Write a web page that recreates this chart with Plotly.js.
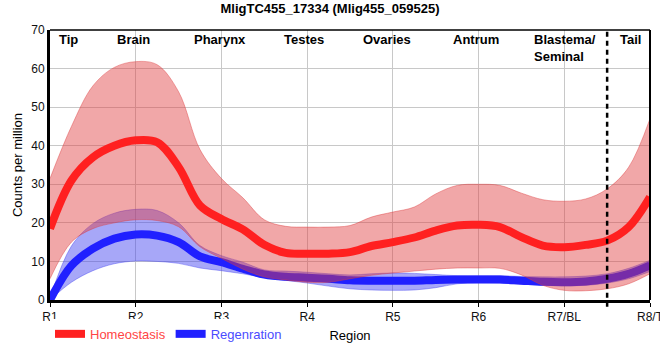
<!DOCTYPE html>
<html>
<head>
<meta charset="utf-8">
<script src="https://cdn.plot.ly/plotly-3.0.1.min.js"></script>
<style>html,body{margin:0;padding:0;background:#fff;}#chart{width:660px;height:360px;}</style>
</head>
<body>
<div id="chart"></div>
<script>
// Region positions (R1 = 1 ... R8 = 8), read at quarter steps
const positions = [1, 1.25, 1.5, 1.75, 2, 2.25, 2.5, 2.75, 3, 3.25, 3.5, 3.75, 4, 4.25, 4.5, 4.75, 5, 5.25, 5.5, 5.75, 6, 6.25, 6.5, 6.75, 7, 7.25, 7.5, 7.75, 8];
const tickPositions = [1, 2, 3, 4, 5, 6, 7, 8];
const tickLabels = ['R1', 'R2', 'R3', 'R4', 'R5', 'R6', 'R7/BL', 'R8/T'];

// Homeostasis
const homeoMean  = [18.5, 31.0, 37.0, 40.0, 41.4, 40.9, 34.5, 24.5, 21.0, 18.3, 14.3, 12.2, 12.0, 12.0, 12.4, 14.0, 15.0, 16.2, 18.0, 19.3, 19.5, 18.9, 16.3, 14.1, 13.7, 14.3, 15.4, 18.9, 26.7];
const homeoUpper = [31.5, 45.0, 55.5, 60.3, 61.8, 61.0, 54.0, 39.0, 31.5, 26.5, 20.8, 19.1, 18.9, 18.9, 19.3, 21.5, 22.8, 24.1, 27.5, 29.7, 30.0, 29.7, 27.7, 26.0, 25.6, 26.2, 28.8, 34.4, 47.0];
const homeoLower = [5.5, 15.0, 18.5, 20.0, 20.8, 20.6, 19.0, 13.8, 10.8, 8.0, 6.0, 5.2, 4.6, 4.6, 5.5, 6.4, 7.0, 7.5, 8.0, 8.3, 8.3, 8.2, 6.5, 3.8, 2.5, 2.4, 2.9, 4.2, 6.8];

// Regeneration
const regenMean  = [0.0, 8.9, 13.3, 15.9, 17.0, 16.7, 15.0, 11.3, 9.8, 8.1, 6.6, 6.0, 5.8, 5.5, 5.1, 5.0, 5.0, 5.0, 5.2, 5.3, 5.3, 5.3, 5.0, 4.7, 4.6, 4.8, 5.5, 6.8, 9.0];
const regenUpper = [0.5, 14.0, 19.8, 22.5, 23.5, 23.2, 20.0, 14.1, 11.5, 9.8, 7.8, 7.5, 7.2, 6.8, 6.5, 6.8, 7.0, 6.9, 6.6, 6.3, 6.3, 6.3, 6.1, 6.0, 6.0, 6.2, 6.8, 8.2, 10.3];
const regenLower = [0.0, 4.6, 7.6, 9.4, 10.1, 10.0, 9.5, 8.3, 7.6, 6.8, 5.8, 5.1, 4.4, 3.6, 2.9, 2.6, 2.5, 2.6, 3.2, 4.2, 4.5, 4.4, 4.1, 3.8, 3.7, 3.8, 4.4, 5.5, 7.4];

// Region names shown at top
const regionNames = ['Tip', 'Brain', 'Pharynx', 'Testes', 'Ovaries', 'Antrum', 'Blastema/<br>Seminal', 'Tail'];
const regionNamePos = [1.22, 1.97, 2.98, 3.96, 4.93, 5.97, 7.01, 7.77];
const dividerPos = 7.5;

const seriesNames = ['Homeostasis', 'Regenration'];

const traces = [
  {x: positions, y: regenLower, type: 'scatter', mode: 'lines', line: {color: 'rgba(60,60,240,0.5)', width: 0.8, shape: 'spline', smoothing: 1}, showlegend: false, hoverinfo: 'skip'},
  {x: positions, y: regenUpper, type: 'scatter', mode: 'lines', fill: 'tonexty', fillcolor: 'rgba(60,60,240,0.45)', line: {color: 'rgba(60,60,240,0.5)', width: 0.8, shape: 'spline', smoothing: 1}, showlegend: false, hoverinfo: 'skip'},
  {x: positions, y: regenMean, type: 'scatter', mode: 'lines', name: '<span style="color:#4b4bff">' + seriesNames[1] + '</span>', line: {color: '#2020ff', width: 8, shape: 'spline', smoothing: 1}},
  {x: positions, y: homeoLower, type: 'scatter', mode: 'lines', line: {color: 'rgba(220,60,62,0.55)', width: 0.8, shape: 'spline', smoothing: 1}, showlegend: false, hoverinfo: 'skip'},
  {x: positions, y: homeoUpper, type: 'scatter', mode: 'lines', fill: 'tonexty', fillcolor: 'rgba(225,60,62,0.45)', line: {color: 'rgba(220,60,62,0.55)', width: 0.8, shape: 'spline', smoothing: 1}, showlegend: false, hoverinfo: 'skip'},
  {x: positions, y: homeoMean, type: 'scatter', mode: 'lines', name: '<span style="color:#ff4545">' + seriesNames[0] + '</span>', line: {color: '#ff2020', width: 8, shape: 'spline', smoothing: 1}}
];

const annotations = regionNames.map((t, i) => ({
  x: regionNamePos[i], y: 1, xref: 'x', yref: 'paper', yanchor: 'top', xanchor: 'center',
  text: '<b>' + t + '</b>', showarrow: false, align: 'left',
  font: {family: 'Arial, Liberation Sans, sans-serif', size: 13, color: '#000'}
}));

const layout = {
  width: 660, height: 360,
  margin: {l: 50, r: 10, t: 30, b: 60},
  paper_bgcolor: '#fff', plot_bgcolor: '#fff',
  font: {family: 'Arial, Liberation Sans, sans-serif', size: 12, color: '#000'},
  title: {text: '<b>MligTC455_17334 (Mlig455_059525)</b>', x: 0.5, xref: 'container', xanchor: 'center', y: 0.976, yref: 'container', yanchor: 'middle', font: {size: 13, color: '#000'}},
  xaxis: {
    range: [1, 8], tickvals: tickPositions, ticktext: tickLabels,
    showgrid: true, gridcolor: '#c8c8c8', gridwidth: 1,
    showline: true, linecolor: '#000', linewidth: 3,
    ticks: 'outside', ticklen: 4, tickcolor: '#000',
    ticklabeloverflow: 'allow',
    zeroline: false, tickfont: {size: 12, color: '#111'},
    title: {text: 'Region', font: {size: 13}, standoff: 8}
  },
  yaxis: {
    range: [0, 70], dtick: 10,
    showgrid: true, gridcolor: '#c8c8c8', gridwidth: 1,
    showline: true, linecolor: '#000', linewidth: 3,
    ticks: '', zeroline: false, tickfont: {size: 12, color: '#111'},
    title: {text: 'Counts per million', font: {size: 13}, standoff: 6}
  },
  legend: {orientation: 'h', x: 0, xanchor: 'left', y: -0.07, yanchor: 'top', font: {size: 13}, itemwidth: 30, tracegroupgap: 0, traceorder: 'reversed'},
  shapes: [
    {type: 'line', xref: 'x', yref: 'paper', x0: dividerPos, x1: dividerPos, y0: -0.025, y1: 1, line: {color: '#000', width: 2.5, dash: '5px,4px'}},
    {type: 'line', xref: 'paper', yref: 'paper', x0: 0, x1: 1, y0: 1, y1: 1, line: {color: '#000', width: 1.5}},
    {type: 'line', xref: 'paper', yref: 'paper', x0: 1, x1: 1, y0: 0, y1: 1, line: {color: '#000', width: 2}}
  ],
  annotations: annotations,
  showlegend: true
};

Plotly.newPlot('chart', traces, layout, {displayModeBar: false, staticPlot: true});
</script>
</body>
</html>
